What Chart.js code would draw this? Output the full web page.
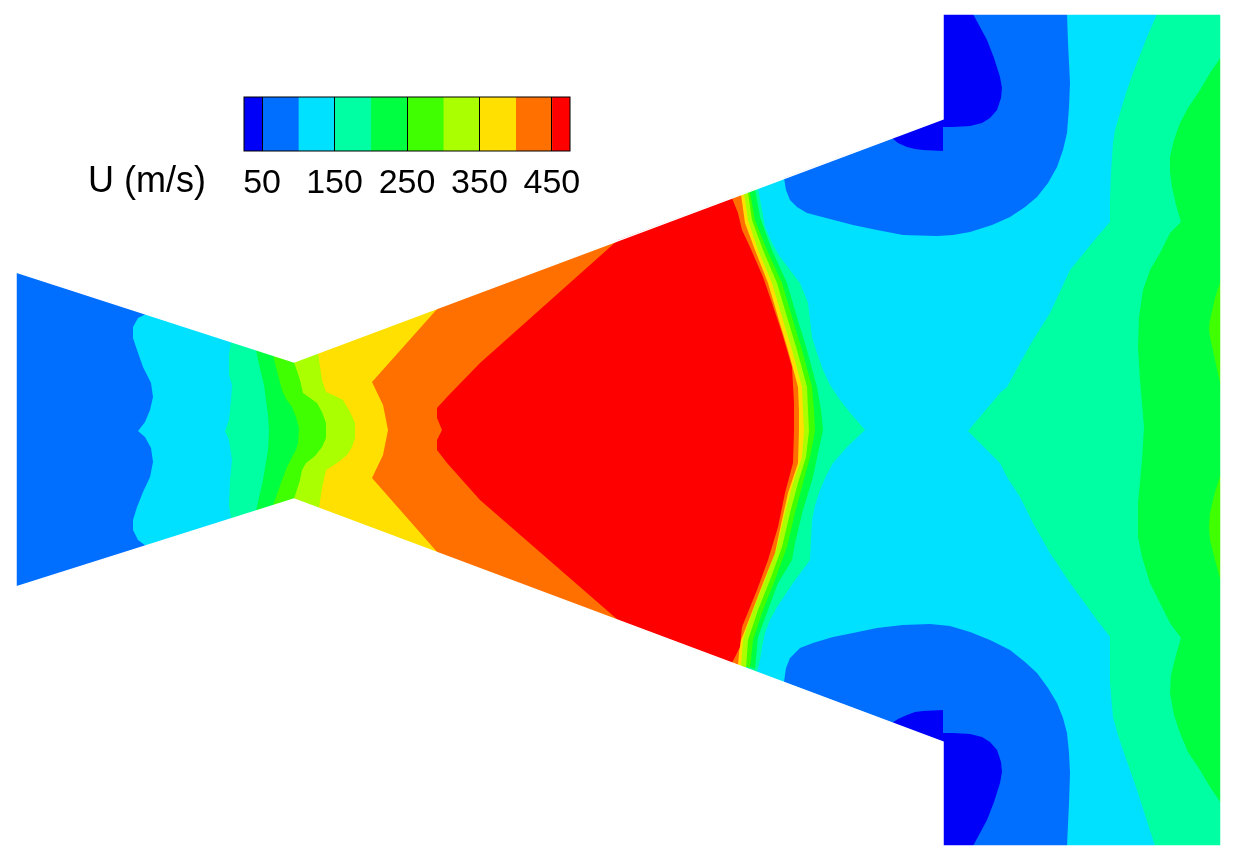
<!DOCTYPE html>
<html>
<head>
<meta charset="utf-8">
<title>Nozzle velocity contours</title>
<script src="https://cdn.jsdelivr.net/npm/chart.js@4/dist/chart.umd.min.js"></script>
<style>
  html, body { margin: 0; padding: 0; background: #fff; }
  #wrap { position: relative; width: 1239px; height: 857px; overflow: hidden; }
  #field { position: absolute; left: 0; top: 0; }
  #bar { position: absolute; left: 200px; top: 90px; }
  #barTitle { position: absolute; left: 88px; top: 159px; font: 36px "Liberation Sans", Arial, sans-serif; color: #000; white-space: nowrap; }
</style>
</head>
<body>
<div id="wrap">
  <canvas id="field" width="1239" height="857"></canvas>
  <canvas id="bar" width="420" height="120"></canvas>
  <div id="barTitle">U (m/s)</div>
</div>
<script>
// colour bar
const levelEdges = [25, 50, 100, 150, 200, 250, 300, 350, 400, 450, 475];
const levelColors = ['#0000f8', '#006eff', '#00e0ff', '#00ffa2', '#00ff40', '#40ff00', '#aaff00', '#ffe000', '#ff7000', '#ff0000'];
const levelTicks = [50, 150, 250, 350, 450];

// whole duct outline, filled with the 100-150 band
const ductOutline = [[16,272],[294,362],[943,119],[943,14],[1221,14],[1221,846],[943,846],[943,742],[294,499],[16,587],[16,272]];

// U < 100
const below100Inlet = [[16,272],[146,314],[138,318],[133,327],[133,338],[137,350],[143,367],[151,383],[153,397],[150,410],[145,422],[138,431],[145,437],[151,448],[153,462],[150,477],[143,492],[137,507],[133,520],[133,530],[138,540],[146,546],[16,587]];
const below100Upper = [[1067,14],[1068,43],[1070,83],[1069,107],[1067,133],[1063,150],[1057,167],[1048,183],[1037,197],[1025,207],[1010,217],[992,225],[970,232],[953,235],[937,236],[903,235],[877,230],[853,225],[830,219],[807,213],[797,207],[790,200],[786,190],[784,178],[943,119],[943,14]];
const below100Lower = [[784,682],[786,668],[790,658],[800,648],[813,643],[833,637],[853,633],[877,628],[903,625],[930,624],[950,626],[970,632],[990,640],[1010,650],[1025,662],[1037,673],[1048,688],[1057,703],[1063,718],[1067,733],[1069,753],[1070,773],[1069,803],[1067,846],[943,846],[943,742]];

// U < 50
const below50UpperCorner = [[943,14],[973,14],[980,27],[987,40],[994,58],[1000,77],[1002,88],[1001,98],[997,110],[990,118],[982,123],[970,126],[953,127],[943,127]];
const below50UpperWall = [[943,119],[892,138],[898,143],[907,147],[915,149],[923,150],[943,151]];
const below50LowerCorner = [[943,846],[973,846],[980,833],[987,820],[994,802],[1000,783],[1002,772],[1001,762],[997,750],[990,742],[982,737],[970,734],[953,733],[943,733]];
const below50LowerWall = [[943,742],[892,723],[898,719],[907,715],[915,712],[923,711],[943,710]];

// U >= 150, core
const above150Core = [[231,341.6],[294,362],[758,188],[762,210],[765,227],[772,243],[780,257],[790,270],[800,283],[808,303],[810,320],[812,337],[817,353],[823,370],[830,385],[840,400],[852,415],[865,430],[847,447],[833,463],[826,476],[820,490],[815,505],[812,520],[810,560],[793,583],[777,607],[770,620],[765,633],[762,647],[760,660],[757,672],[294,499],[231,519],[229,505],[230,480],[232,460],[229,440],[225,431],[229,420],[231,400],[232,385],[229,375],[229,355]];
// U >= 150, outlet
const above150Outlet = [[1157,14],[1147,37],[1133,73],[1126,93],[1120,113],[1115,130],[1113,143],[1111,173],[1110,200],[1110,222],[1097,237],[1070,270],[1050,313],[1033,340],[1020,363],[1007,387],[1000,393],[968,431],[1000,463],[1007,477],[1020,497],[1033,523],[1050,553],[1070,583],[1097,620],[1110,637],[1110,683],[1113,717],[1118,735],[1123,750],[1137,790],[1155,846],[1221,846],[1221,14]];

// U >= 200
const above200Core = [[256,350],[294,362],[755,189],[760,217],[772,250],[787,283],[797,317],[807,350],[817,387],[821,410],[823,430],[818,453],[813,477],[803,510],[795,543],[792,560],[778,583],[768,610],[758,637],[755,669],[294,499],[256,511],[263,480],[268,450],[269,431],[268,415],[264,385],[258,360]];
const above200Outlet = [[1221,57],[1210,73],[1200,90],[1188,108],[1180,123],[1174,140],[1170,157],[1170,172],[1172,187],[1176,205],[1181,222],[1170,233],[1160,253],[1150,270],[1143,290],[1139,317],[1138,347],[1140,380],[1144,427],[1142,460],[1138,503],[1138,537],[1142,557],[1150,583],[1160,603],[1170,623],[1181,638],[1176,655],[1171,675],[1170,693],[1174,715],[1180,733],[1188,752],[1200,770],[1210,787],[1221,803]];

// U >= 250
const above250Core = [[273,355.5],[294,362],[750,192],[755,220],[767,250],[782,283],[792,317],[802,350],[812,387],[814,410],[815,431],[810,457],[803,483],[795,513],[787,547],[775,580],[763,610],[753,640],[750,668],[294,499],[273,505.5],[282,480],[287,467],[292,457],[296,450],[298,443],[299,428],[296,417],[292,407],[286,399],[282,390]];
const above250OutletUpper = [[1221,280],[1215,298],[1210,320],[1209,329],[1210,337],[1215,360],[1221,387]];
const above250OutletLower = [[1221,473],[1215,492],[1210,513],[1209,527],[1210,540],[1215,560],[1221,582]];

// U >= 300
const above300Core = [[294,362],[748,192.5],[752,220],[763,250],[777,283],[787,317],[797,350],[807,387],[808,410],[809,431],[806,457],[798,483],[790,513],[782,547],[770,580],[758,610],[748,640],[746,668],[294,499],[300,480],[302,470],[306,463],[315,456],[322,447],[326,438],[326,423],[322,412],[317,403],[310,398],[303,393],[300,380]];

// U >= 350
const above350Core = [[318,353],[744,193.5],[748,220],[758,250],[772,283],[782,317],[792,350],[802,387],[803,410],[804,431],[802,457],[793,483],[785,513],[777,547],[765,580],[753,610],[743,640],[741,666.5],[319,508],[322,488],[326,470],[337,463],[347,455],[352,447],[355,438],[355,423],[350,412],[343,400],[335,396],[326,392],[322,380]];

// U >= 400
const above400Core = [[438,308],[741,194.5],[745,223],[755,250],[768,283],[778,317],[788,350],[798,387],[799,410],[799,431],[798,463],[788,493],[782,520],[775,553],[763,583],[750,617],[740,643],[738,665],[438,553],[372,478],[383,455],[388,430],[383,405],[372,382]];

// U >= 450
const above450Core = [[618,240],[732,198],[738,213],[742,230],[750,247],[763,277],[772,303],[782,333],[792,367],[794,403],[794,431],[793,463],[785,493],[778,527],[768,560],[757,590],[742,627],[740,647],[732,663],[618,620],[480,500],[447,463],[437,450],[437,440],[442,430],[437,418],[437,408],[447,397],[480,363]];

// painter order, lowest layer first
const layers = [
  [ductOutline, 2],
  [above150Core, 3], [above150Outlet, 3],
  [above200Core, 4], [above200Outlet, 4],
  [above250Core, 5], [above250OutletUpper, 5], [above250OutletLower, 5],
  [above300Core, 6],
  [above350Core, 7],
  [above400Core, 8],
  [above450Core, 9],
  [below100Inlet, 1], [below100Upper, 1], [below100Lower, 1],
  [below50UpperCorner, 0], [below50UpperWall, 0], [below50LowerCorner, 0], [below50LowerWall, 0]
];

// chart.js paints dataset 0 last, so hand them over reversed
const fieldDatasets = layers.slice().reverse().map(function (l) {
  return {
    data: l[0],
    showLine: true,
    fill: 'shape',
    tension: 0,
    borderWidth: 0,
    pointRadius: 0,
    backgroundColor: levelColors[l[1]]
  };
});

// white trim on top, hides the colours bleeding through along the walls
fieldDatasets.unshift({
  data: ductOutline,
  showLine: true,
  fill: false,
  tension: 0,
  borderWidth: 1.5,
  borderColor: '#fff',
  pointRadius: 0
});

new Chart(document.getElementById('field'), {
  type: 'scatter',
  data: { datasets: fieldDatasets },
  options: {
    responsive: false,
    animation: false,
    layout: { padding: 0 },
    plugins: { legend: { display: false }, tooltip: { enabled: false } },
    scales: {
      x: { type: 'linear', min: 0, max: 1239, display: false },
      y: { type: 'linear', min: 0, max: 857, reverse: true, display: false }
    }
  }
});

// frame round the colour bar
const barFrame = {
  id: 'barFrame',
  afterDraw(chart) {
    const a = chart.chartArea;
    const ctx = chart.ctx;
    ctx.save();
    ctx.strokeStyle = '#000';
    ctx.lineWidth = 1;
    ctx.strokeRect(a.left, a.top, a.right - a.left, a.bottom - a.top);
    ctx.restore();
  }
};

const barDatasets = levelColors.map(function (c, i) {
  return {
    data: [[levelEdges[i], levelEdges[i + 1]]],
    backgroundColor: c,
    borderWidth: 0,
    barPercentage: 1,
    categoryPercentage: 1,
    grouped: false
  };
});

new Chart(document.getElementById('bar'), {
  type: 'bar',
  data: { labels: ['U'], datasets: barDatasets },
  plugins: [barFrame],
  options: {
    indexAxis: 'y',
    responsive: false,
    animation: false,
    layout: { padding: { left: 44, right: 50, top: 7, bottom: 5 } },
    plugins: { legend: { display: false }, tooltip: { enabled: false } },
    scales: {
      x: {
        type: 'linear',
        min: levelEdges[0],
        max: levelEdges[levelEdges.length - 1],
        border: { display: false },
        grid: { color: '#000', lineWidth: 1, tickLength: 0, z: 1 },
        afterBuildTicks(axis) {
          axis.ticks = levelTicks.map(function (v) { return { value: v }; });
        },
        ticks: {
          autoSkip: false,
          maxRotation: 0,
          padding: 12,
          color: '#000',
          font: { family: '"Liberation Sans", Arial, sans-serif', size: 34 }
        }
      },
      y: { display: false }
    }
  }
});
</script>
</body>
</html>
